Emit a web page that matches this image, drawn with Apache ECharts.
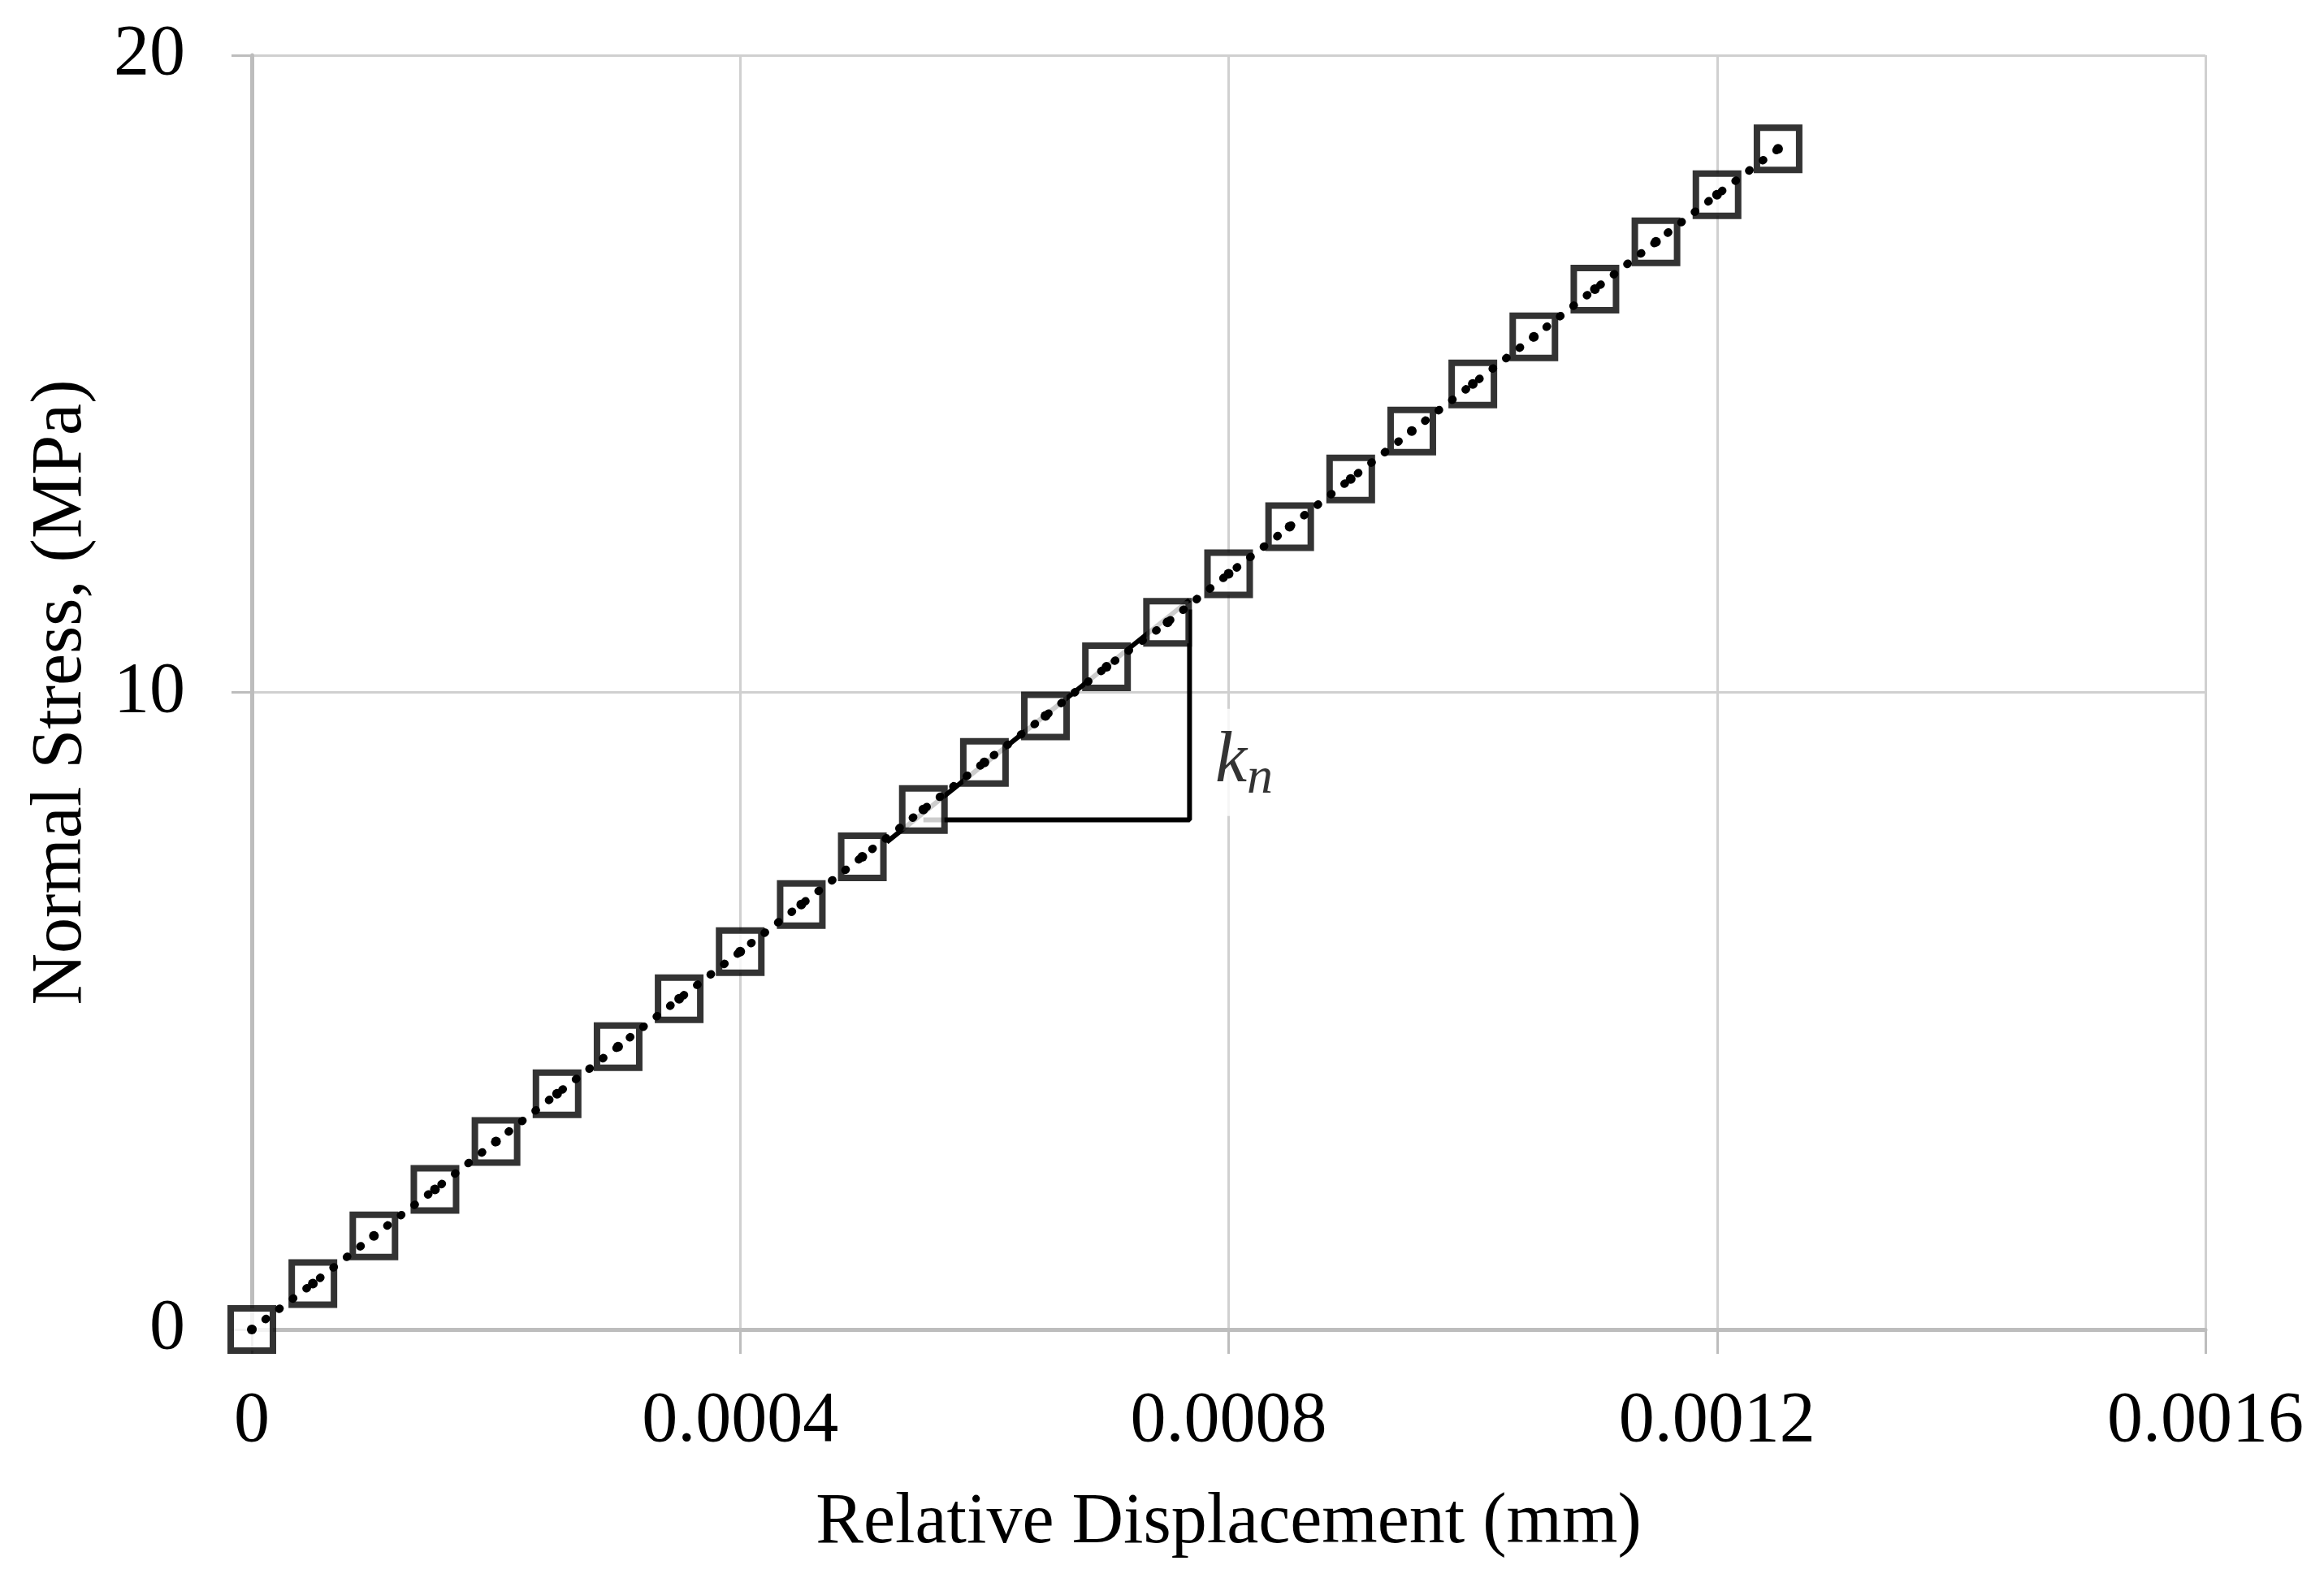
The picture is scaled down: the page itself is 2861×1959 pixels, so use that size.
<!DOCTYPE html>
<html>
<head>
<meta charset="utf-8">
<script src="https://cdn.jsdelivr.net/npm/echarts@6/dist/echarts.min.js"></script>
<style>html,body{margin:0;padding:0;background:#fff;}#chart{width:2861px;height:1959px;}</style>
</head>
<body>
<div id="chart"></div>
<script>
// 数据
var dispX = [0, 0.00005, 0.0001, 0.00015, 0.0002, 0.00025, 0.0003, 0.00035, 0.0004, 0.00045,
	0.0005, 0.00055, 0.0006, 0.00065, 0.0007, 0.00075, 0.0008, 0.00085, 0.0009, 0.00095,
	0.001, 0.00105, 0.0011, 0.00115, 0.0012, 0.00125];
var stressY = [0, 0.72, 1.47, 2.2, 2.95, 3.7, 4.44, 5.19, 5.93, 6.67,
	7.42, 8.16, 8.9, 9.63, 10.4, 11.1, 11.86, 12.6, 13.35, 14.1,
	14.84, 15.58, 16.33, 17.07, 17.81, 18.53];
var triX = [0.00055, 0.000768, 0.000768];
var triY = [8.0, 8.0, 11.3];
var hypX = [0.00052, 0.000768];
var hypY = [7.65, 11.45];
var kLabelPos = [0.000782, 8.9];

function pairs(xs, ys) {
	return xs.map(function (x, i) { return [x, ys[i]]; });
}

var myChart = echarts.init(document.getElementById('chart'));
var serif = 'Liberation Serif';
var option = {
	animation: false,
	grid: { left: 310, right: 146, top: 68, bottom: 322 },
	xAxis: {
		type: 'value', min: 0, max: 0.0016, interval: 0.0004,
		name: 'Relative Displacement (mm)', nameLocation: 'middle', nameGap: 195,
		nameTextStyle: { fontFamily: serif, fontSize: 88, color: '#000' },
		axisLine: { lineStyle: { color: '#bdbdbd', width: 5 } },
		axisTick: { show: true, length: 30, lineStyle: { color: '#bdbdbd', width: 3 } },
		axisLabel: { fontFamily: serif, fontSize: 88, color: '#000', margin: 70,
			formatter: function (v) { return v === 0 ? '0' : v.toFixed(4); } },
		splitLine: { lineStyle: { color: '#d0d0d0', width: 3 } }
	},
	yAxis: {
		type: 'value', min: 0, max: 20, interval: 10,
		name: 'Normal Stress, (MPa)', nameLocation: 'middle', nameGap: 190,
		nameTextStyle: { fontFamily: serif, fontSize: 88, color: '#000' },
		axisLine: { show: true, lineStyle: { color: '#bdbdbd', width: 5 } },
		axisTick: { show: true, length: 25, lineStyle: { color: '#bdbdbd', width: 3 } },
		axisLabel: { fontFamily: serif, fontSize: 88, color: '#000', margin: 82 },
		splitLine: { lineStyle: { color: '#d0d0d0', width: 3 } }
	},
	series: [
		{
			type: 'line', data: pairs(hypX, hypY), symbol: 'none', z: 3,
			lineStyle: { color: '#000', width: 6 }
		},
		{
			type: 'line', data: pairs(triX, triY), symbol: 'none', z: 3,
			lineStyle: { color: '#000', width: 6 }
		},
		{
			type: 'scatter', data: pairs(dispX, stressY), symbol: 'rect', symbolSize: 52, z: 4,
			itemStyle: { color: '#fff', borderColor: '#000', borderWidth: 8 }
		},
		{
			type: 'line', data: pairs(dispX, stressY), symbol: 'circle', symbolSize: 12, z: 5,
			itemStyle: { color: '#000' },
			lineStyle: { color: '#000', width: 10, type: [1, 20], cap: 'round' }
		},
		{
			type: 'scatter', data: [kLabelPos], symbolSize: 1, z: 6,
			itemStyle: { color: 'transparent' },
			label: {
				show: true, position: 'right', distance: 0,
				formatter: '{k|k}{n|n}',
				backgroundColor: '#fff', padding: [14, 10, 14, 10],
				rich: {
					k: { fontFamily: serif, fontStyle: 'italic', fontSize: 88, color: '#000' },
					n: { fontFamily: serif, fontStyle: 'italic', fontSize: 64, color: '#000', verticalAlign: 'bottom', padding: [40, 0, 0, 0] }
				}
			}
		}
	]
};
myChart.setOption(option);
</script>
</body>
</html>
